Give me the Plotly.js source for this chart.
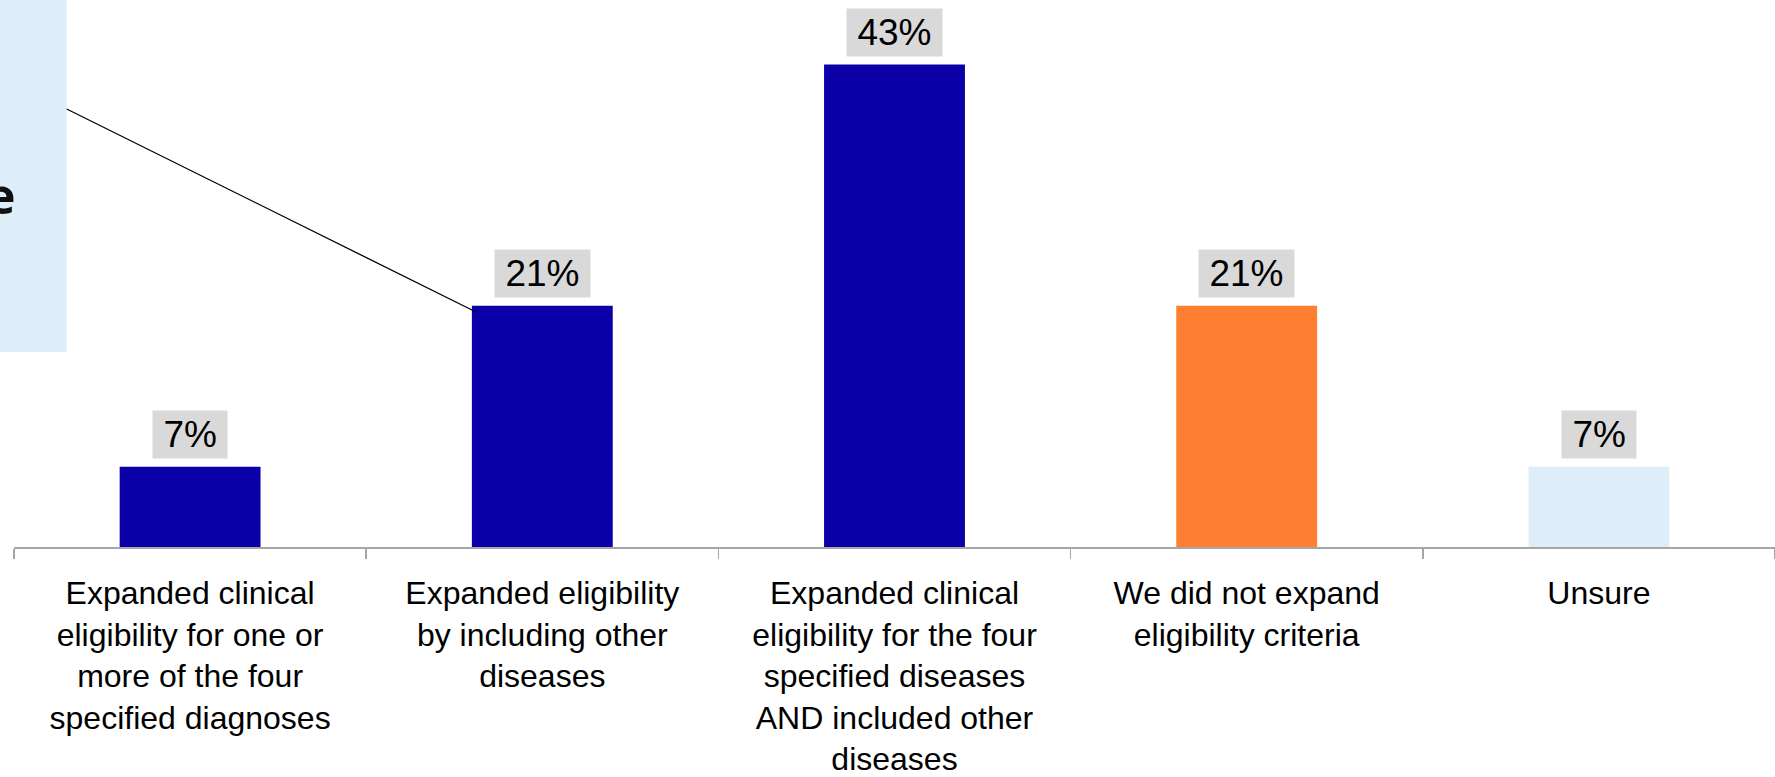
<!DOCTYPE html>
<html>
<head>
<meta charset="utf-8">
<script src="https://cdn.plot.ly/plotly-3.0.1.min.js"></script>
<style>
  html, body { margin: 0; padding: 0; background: #ffffff; }
  #chart { width: 1775px; height: 777px; }
</style>
</head>
<body>
<div id="chart"></div>
<script>
// Category labels (as shown under the axis)
const categories = [
  "Expanded clinical<br>eligibility for one or<br>more of the four<br>specified diagnoses",
  "Expanded eligibility<br>by including other<br>diseases",
  "Expanded clinical<br>eligibility for the four<br>specified diseases<br>AND included other<br>diseases",
  "We did not expand<br>eligibility criteria",
  "Unsure"
];
// Share of respondents (%)
const values = [7.14, 21.43, 42.86, 21.43, 7.14];
// Bar colours
const barColors = ["#0B00A8", "#0B00A8", "#0B00A8", "#FF7F32", "#DDEEF8"];
// Callout text (only its last letter is visible in the frame)
const calloutText = "e";

const FONT = "Liberation Sans, Arial, sans-serif";

const trace = {
  type: "bar",
  x: categories,
  y: values,
  marker: { color: barColors, line: { width: 0 } },
  hoverinfo: "skip"
};

// value labels with grey background
const labelAnnotations = categories.map((c, i) => ({
  x: c,
  y: values[i],
  xref: "x",
  yref: "y",
  text: "\u2009" + Math.round(values[i]) + "%\u2009",
  showarrow: false,
  xanchor: "center",
  yanchor: "bottom",
  yshift: 8,
  bgcolor: "#D9D9D9",
  borderpad: 3,
  borderwidth: 1,
  bordercolor: "rgba(0,0,0,0)",
  font: { family: FONT, size: 37, color: "#000000" }
}));

// pixel -> paper helpers for the callout (plot area: x from 14px, width 1761px; y from 0 to 547px)
const PL = 14, PW = 1761, PH = 547;
const px = v => (v - PL) / PW;
const py = v => (PH - v) / PH;

const layout = {
  width: 1775,
  height: 777,
  margin: { l: PL, r: 0, t: 0, b: 777 - PH, pad: 0 },
  paper_bgcolor: "#ffffff",
  plot_bgcolor: "#ffffff",
  showlegend: false,
  bargap: 0.6,
  xaxis: {
    type: "category",
    tickson: "boundaries",
    ticks: "outside",
    ticklen: 10,
    tickwidth: 1.5,
    tickcolor: "#A6A6A6",
    showline: true,
    linecolor: "#A6A6A6",
    linewidth: 1.5,
    showgrid: false,
    zeroline: false,
    ticklabelstandoff: 17,
    tickfont: { family: FONT, size: 32, color: "#000000" },
    automargin: false
  },
  yaxis: {
    range: [0, 48.6],
    visible: false,
    showgrid: false,
    zeroline: false,
    fixedrange: true
  },
  shapes: [
    {
      type: "rect", xref: "paper", yref: "paper", layer: "below",
      x0: px(-300), x1: px(66.7), y0: py(352), y1: py(-20),
      fillcolor: "#DDEEF8", line: { width: 0 }
    },
    {
      type: "line", xref: "paper", yref: "paper",
      x0: px(66.7), y0: py(109), x1: px(476), y1: py(312),
      line: { color: "#000000", width: 1.3 }
    }
  ],
  annotations: labelAnnotations.concat([
    {
      xref: "paper", yref: "paper",
      x: px(18), y: py(195),
      xanchor: "right", yanchor: "middle",
      text: "<b>" + calloutText + "</b>",
      showarrow: false,
      font: { family: "Open Sans, Noto Sans, sans-serif", size: 50, color: "#111111" }
    }
  ])
};

Plotly.newPlot("chart", [trace], layout, { displayModeBar: false, staticPlot: true });
</script>
</body>
</html>
